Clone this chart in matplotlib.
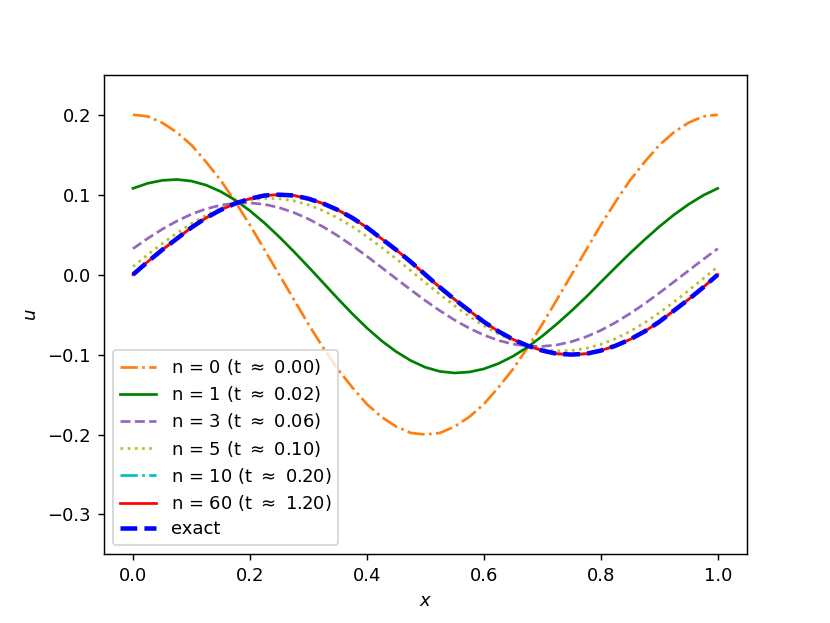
#!/bin/python3

"""
Plot successive solution profiles u(x) against the exact solution.
"""

import matplotlib

matplotlib.use("Agg")
import matplotlib.pyplot as plt

OUT_PNG = "out.png"
DPI = 130

X = [
    0.000, 0.025, 0.050, 0.075, 0.100, 0.125, 0.150, 0.175, 0.200, 0.225,
    0.250, 0.275, 0.300, 0.325, 0.350, 0.375, 0.400, 0.425, 0.450, 0.475,
    0.500, 0.525, 0.550, 0.575, 0.600, 0.625, 0.650, 0.675, 0.700, 0.725,
    0.750, 0.775, 0.800, 0.825, 0.850, 0.875, 0.900, 0.925, 0.950, 0.975,
    1.000,
]

STEPS = [0, 1, 3, 5, 10, 60]
TIMES = [0.00, 0.02, 0.06, 0.10, 0.20, 1.20]

U_N0 = [
    0.200, 0.198, 0.190, 0.178, 0.162, 0.141, 0.118, 0.091, 0.062, 0.031,
    0.000, -0.031, -0.062, -0.091, -0.118, -0.141, -0.162, -0.178, -0.190, -0.198,
    -0.200, -0.198, -0.190, -0.178, -0.162, -0.141, -0.118, -0.091, -0.062, -0.031,
    0.000, 0.031, 0.062, 0.091, 0.118, 0.141, 0.162, 0.178, 0.190, 0.198,
    0.200,
]
U_N1 = [
    0.1079, 0.1142, 0.1179, 0.1190, 0.1170, 0.1120, 0.1039, 0.0932, 0.0799, 0.0645,
    0.0473, 0.0289, 0.0097, -0.0100, -0.0298, -0.0489, -0.0667, -0.0827, -0.0963, -0.1075,
    -0.1159, -0.1211, -0.1230, -0.1218, -0.1179, -0.1112, -0.1020, -0.0905, -0.0768, -0.0616,
    -0.0452, -0.0279, -0.0094, 0.0089, 0.0268, 0.0438, 0.0600, 0.0748, 0.0879, 0.0991,
    0.1079,
]
U_N3 = [
    0.0325, 0.0452, 0.0568, 0.0670, 0.0756, 0.0823, 0.0869, 0.0894, 0.0897, 0.0879,
    0.0838, 0.0777, 0.0697, 0.0599, 0.0487, 0.0363, 0.0230, 0.0090, -0.0050, -0.0190,
    -0.0325, -0.0452, -0.0568, -0.0670, -0.0756, -0.0823, -0.0869, -0.0894, -0.0897, -0.0879,
    -0.0838, -0.0777, -0.0697, -0.0599, -0.0487, -0.0363, -0.0230, -0.0090, 0.0050, 0.0190,
    0.0325,
]
U_N5 = [
    0.0100, 0.0248, 0.0389, 0.0520, 0.0639, 0.0743, 0.0828, 0.0891, 0.0935, 0.0954,
    0.0950, 0.0922, 0.0873, 0.0801, 0.0710, 0.0601, 0.0477, 0.0342, 0.0199, 0.0050,
    -0.0100, -0.0248, -0.0389, -0.0520, -0.0639, -0.0743, -0.0828, -0.0891, -0.0935, -0.0954,
    -0.0950, -0.0922, -0.0873, -0.0801, -0.0710, -0.0601, -0.0477, -0.0342, -0.0199, -0.0050,
    0.0100,
]
U_N10 = [
    0.001, 0.016, 0.031, 0.045, 0.059, 0.071, 0.081, 0.089, 0.095, 0.099,
    0.100, 0.099, 0.095, 0.089, 0.081, 0.071, 0.059, 0.045, 0.031, 0.016,
    -0.001, -0.016, -0.031, -0.045, -0.059, -0.071, -0.081, -0.089, -0.095, -0.099,
    -0.100, -0.099, -0.095, -0.089, -0.081, -0.071, -0.059, -0.045, -0.031, -0.016,
    0.001,
]
U_N60 = [
    0.000, 0.016, 0.031, 0.045, 0.059, 0.071, 0.081, 0.089, 0.095, 0.099,
    0.100, 0.099, 0.095, 0.089, 0.081, 0.071, 0.059, 0.045, 0.031, 0.016,
    0.000, -0.016, -0.031, -0.045, -0.059, -0.071, -0.081, -0.089, -0.095, -0.099,
    -0.100, -0.099, -0.095, -0.089, -0.081, -0.071, -0.059, -0.045, -0.031, -0.016,
    0.000,
]
U_EXACT = [
    0.000, 0.016, 0.031, 0.045, 0.059, 0.071, 0.081, 0.089, 0.095, 0.099,
    0.100, 0.099, 0.095, 0.089, 0.081, 0.071, 0.059, 0.045, 0.031, 0.016,
    0.000, -0.016, -0.031, -0.045, -0.059, -0.071, -0.081, -0.089, -0.095, -0.099,
    -0.100, -0.099, -0.095, -0.089, -0.081, -0.071, -0.059, -0.045, -0.031, -0.016,
    0.000,
]

SERIES = [U_N0, U_N1, U_N3, U_N5, U_N10, U_N60]
COLORS = ["#ff7f0e", "g", "#9467bd", "#bcbd22", "c", "r"]
STYLES = ["-.", "-", "--", ":", "-.", "-"]


def main() -> None:
    """
    Draw the profiles and save the figure.
    """
    fig, ax = plt.subplots(figsize=(830 / DPI, 623 / DPI), dpi=DPI)
    for n, t, u, color, style in zip(STEPS, TIMES, SERIES, COLORS, STYLES):
        ax.plot(X, u, linestyle=style, color=color, linewidth=1.5,
                label=f"n = {n} (t $\\approx$ {t:.2f})")
    ax.plot(X, U_EXACT, "b--", linewidth=2.5, label="exact")
    ax.set_ylim(-0.35, 0.25)
    ax.set_xlabel("$x$")
    ax.set_ylabel("$u$")
    ax.legend(loc="lower left", labelspacing=0.4)
    fig.savefig(OUT_PNG, dpi=DPI)


if __name__ == "__main__":
    main()
